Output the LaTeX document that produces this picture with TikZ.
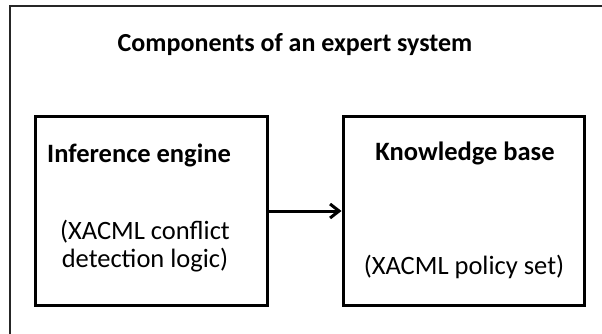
\documentclass[tikz,border=0pt]{standalone}
\usepackage{fontspec}
\setmainfont{Carlito}
\usetikzlibrary{arrows.meta}
\begin{document}
\begin{tikzpicture}[x=1pt,y=-1pt,
  frame/.style={line width=1.5pt,draw=black!85},
  compbox/.style={draw=black,line width=3pt,inner sep=0pt},
  heading/.style={font=\bfseries\fontsize{26}{30}\selectfont,inner sep=0pt},
  boxtitle/.style={font=\bfseries\fontsize{26.5}{30}\selectfont,inner sep=0pt},
  boxtext/.style={font=\fontsize{26.5}{28}\selectfont,inner sep=0pt,align=center},
  link/.style={line width=3pt,-{Straight Barb[length=9pt,width=14pt,line width=3pt]}}]
  \useasboundingbox (0,0) rectangle (602,334);
  % outer frame: only the top and left edges are visible
  \draw[frame] (10,334) -- (10,6) -- (602,6);
  \node[heading] (title) at (295,45) {Components of an expert system};
  % component boxes
  \node[compbox,minimum width=232pt,minimum height=188pt] (ie) at (151,211) {};
  \node[compbox,minimum width=241pt,minimum height=188pt] (kb) at (463.5,211) {};
  \node[boxtitle,anchor=west] (iet) at (47,155) {Inference engine};
  \node[boxtext] (ied) at (145,246) {(XACML conflict\\detection logic)};
  \node[boxtitle] (kbt) at (465,153) {Knowledge base};
  \node[boxtext] (kbd) at (464,267) {(XACML policy set)};
  \draw[link] (ie.east) -- (kb.west);
\end{tikzpicture}
\end{document}
